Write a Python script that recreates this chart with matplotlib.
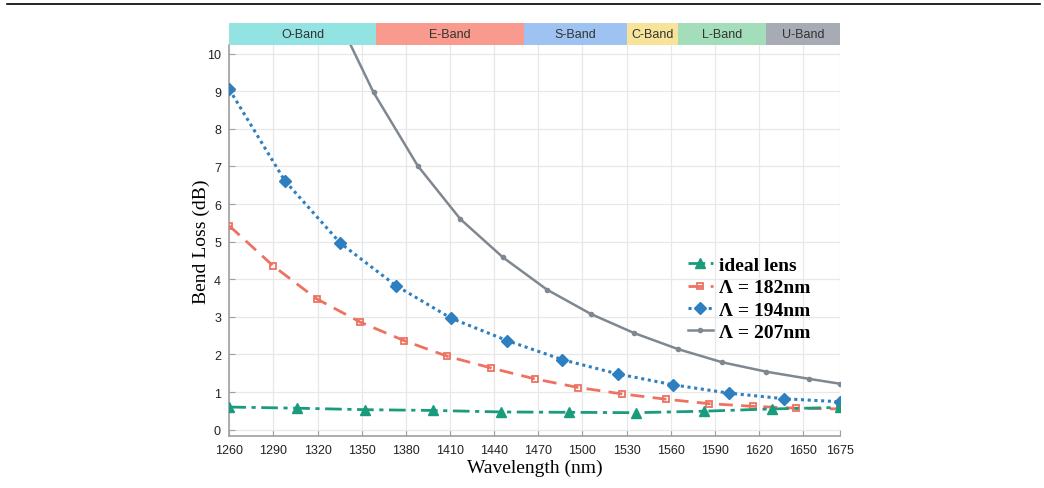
import numpy as np
import matplotlib
matplotlib.use('Agg')
import matplotlib.pyplot as plt
from matplotlib.lines import Line2D

# ---------------- data ----------------
x_ideal = np.linspace(1260, 1675, 10)
y_ideal = [0.60, 0.57, 0.53, 0.51, 0.47, 0.46, 0.45, 0.49, 0.55, 0.59]

x_182 = np.linspace(1260, 1675, 15)
y_182 = [5.42, 4.36, 3.48, 2.86, 2.37, 1.95, 1.64, 1.35, 1.12, 0.95,
         0.81, 0.69, 0.62, 0.57, 0.55]

x_194 = np.linspace(1260, 1675, 12)
y_194 = [9.05, 6.62, 4.96, 3.83, 2.96, 2.37, 1.86, 1.48, 1.19, 0.97, 0.82, 0.74]

x_207 = [1328, 1358, 1388, 1417, 1446, 1476, 1506, 1535, 1565, 1595, 1625, 1654, 1675]
y_207 = [11.4, 8.97, 7.02, 5.60, 4.58, 3.72, 3.07, 2.57, 2.14, 1.79, 1.54, 1.35, 1.22]

bands = ['O-Band', 'E-Band', 'S-Band', 'C-Band', 'L-Band', 'U-Band']
band_edges = [1260, 1360, 1460, 1530, 1565, 1625, 1675]
band_colors = ['#93e3e3', '#f99a8e', '#9ec3f3', '#f8e39b', '#a3ddba', '#a7abb3']

xticks = list(range(1260, 1651, 30)) + [1675]
yticks = list(range(0, 11))

# ---------------- figure ----------------
W, H = 1044, 489
fig = plt.figure(figsize=(W / 100, H / 100), dpi=100)

ax_l, ax_r, ax_t, ax_b = 229.3, 840, 46, 437
ax = fig.add_axes([ax_l / W, 1 - ax_b / H, (ax_r - ax_l) / W, (ax_b - ax_t) / H])

ax.plot(x_ideal, y_ideal, color='#1a9c7c', lw=2, ls=(0, (6, 2, 1.5, 2)),
        marker='^', ms=7, label='ideal lens', zorder=5)
ax.plot(x_182, y_182, color='#ee7262', lw=2, ls=(0, (5, 3)),
        marker='s', ms=5, mfc='none', mew=1.3, label='Λ = 182nm', zorder=4)
ax.plot(x_194, y_194, color='#2e7fc0', lw=2.2, ls=(0, (1, 1.2)),
        marker='D', ms=6, label='Λ = 194nm', zorder=4)
ax.plot(x_207, y_207, color='#7f8790', lw=1.8, ls='-',
        marker='o', ms=3, label='Λ = 207nm', zorder=3)

ax.set_xlim(1260, 1675)
ax.set_ylim(-0.17, 10.23)
ax.set_xticks(xticks)
ax.set_yticks(yticks)
ax.grid(True, color='#e8e8e8', lw=0.9)
ax.set_axisbelow(True)
for s in ['top', 'right']:
    ax.spines[s].set_visible(False)
for s in ['left', 'bottom']:
    ax.spines[s].set_color('#a0a0a0')
    ax.spines[s].set_linewidth(1.2)
ax.tick_params(direction='in', length=4, color='#a0a0a0', labelsize=9,
               labelcolor='#222222', pad=6)
for lab in ax.get_xticklabels() + ax.get_yticklabels():
    lab.set_fontfamily('Liberation Sans')

ax.set_xlabel('Wavelength (nm)', fontsize=14, family='Liberation Serif', labelpad=2)
ax.set_ylabel('Bend Loss (dB)', fontsize=14, family='Liberation Serif', labelpad=-2)

leg = ax.legend(loc='center left', bbox_to_anchor=(0.7506, 0.351), frameon=False,
                prop={'family': 'Liberation Serif', 'weight': 'bold', 'size': 14},
                handlelength=1.3, handletextpad=0.3, labelspacing=0.25,
                borderpad=0, borderaxespad=0)

# band strip on top
bx = fig.add_axes([ax_l / W, 1 - ax_t / H, (ax_r - ax_l) / W, 22 / H])
for i, name in enumerate(bands):
    bx.axvspan(band_edges[i], band_edges[i + 1], color=band_colors[i], lw=0)
    bx.text((band_edges[i] + band_edges[i + 1]) / 2, 0.5, name, ha='center', va='center',
            fontsize=9, family='Liberation Sans', color='#333333')
bx.set_xlim(1260, 1675)
bx.set_ylim(0, 1)
bx.axis('off')

# page rule at the top
fig.add_artist(Line2D([7 / W, 1040 / W], [1 - 5 / H, 1 - 5 / H], color='black', lw=1.2))

fig.savefig('out.png', dpi=100)
